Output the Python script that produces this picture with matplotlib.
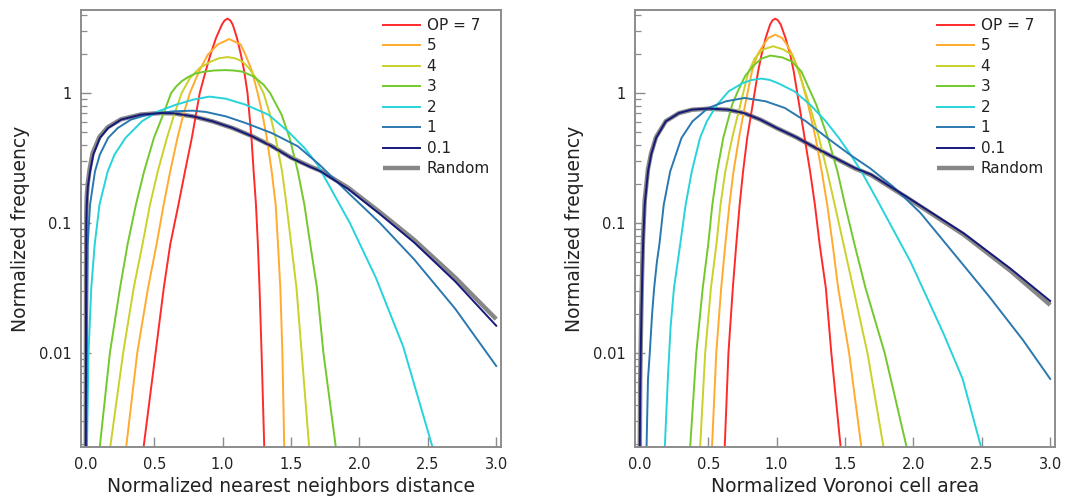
import matplotlib
matplotlib.use("Agg")
import matplotlib.pyplot as plt
from matplotlib.ticker import FixedLocator, FixedFormatter, LogLocator, NullFormatter

plt.rcParams['font.family'] = ['DejaVu Sans']

# ---------------- series labels and colours ----------------
labels = ["OP = 7", "5", "4", "3", "2", "1", "0.1", "Random"]
colors = ["#ff2a2a", "#ffab2e", "#c9d12a", "#72c92c", "#27d3da", "#2a78b0", "#16197a", "#7a7a7a"]

# ---------------- nearest neighbour distance distributions ----------------
nn_op7_x = [0.42, 0.51, 0.57, 0.617, 0.677, 0.725, 0.775, 0.833, 0.876, 0.911, 0.952, 0.995, 1.015, 1.036, 1.056,
            1.074, 1.105, 1.134, 1.158, 1.182, 1.211, 1.227, 1.244, 1.258, 1.27, 1.285, 1.305]
nn_op7_y = [0.0018, 0.01, 0.0316, 0.0681, 0.138, 0.249, 0.451, 1.0, 1.47, 1.97, 2.65, 3.36, 3.62, 3.73, 3.62,
            3.36, 2.65, 1.97, 1.47, 1.0, 0.451, 0.249, 0.138, 0.0681, 0.0316, 0.01, 0.0018]

nn_op5_x = [0.293, 0.376, 0.455, 0.517, 0.569, 0.617, 0.67, 0.713, 0.761, 0.828, 0.892, 0.964, 1.048, 1.132,
            1.167, 1.215, 1.256, 1.292, 1.323, 1.359, 1.388, 1.405, 1.422, 1.437, 1.451]
nn_op5_y = [0.0018, 0.01, 0.0316, 0.0681, 0.138, 0.249, 0.451, 0.681, 1.0, 1.47, 1.97, 2.36, 2.6, 2.36,
            1.97, 1.47, 1.0, 0.681, 0.451, 0.249, 0.138, 0.0681, 0.0316, 0.01, 0.0018]

nn_op4_x = [0.176, 0.273, 0.35, 0.414, 0.469, 0.526, 0.593, 0.646, 0.701, 0.761, 0.833, 0.916, 0.975, 1.036,
            1.09, 1.144, 1.191, 1.244, 1.299, 1.347, 1.388, 1.435, 1.467, 1.502, 1.54, 1.578, 1.634]
nn_op4_y = [0.0018, 0.01, 0.0316, 0.0681, 0.138, 0.249, 0.451, 0.681, 1.0, 1.3, 1.56, 1.75, 1.85, 1.89,
            1.85, 1.75, 1.56, 1.3, 1.0, 0.681, 0.451, 0.249, 0.138, 0.0681, 0.0316, 0.01, 0.0018]

nn_op3_x = [0.10, 0.176, 0.25, 0.305, 0.366, 0.426, 0.498, 0.565, 0.624, 0.66, 0.70, 0.75, 0.80, 0.868, 0.94,
            1.019, 1.08, 1.144, 1.227, 1.299, 1.347, 1.431, 1.49, 1.55, 1.598, 1.641, 1.69, 1.737, 1.83]
nn_op3_y = [0.0018, 0.01, 0.0316, 0.0681, 0.138, 0.249, 0.451, 0.681, 1.0, 1.12, 1.23, 1.33, 1.41, 1.46, 1.49,
            1.5, 1.49, 1.46, 1.34, 1.16, 1.0, 0.681, 0.451, 0.249, 0.138, 0.0681, 0.0316, 0.01, 0.0018]

nn_op2_x = [0.008, 0.02, 0.04, 0.065, 0.1, 0.16, 0.21, 0.29, 0.41, 0.53, 0.66, 0.785, 0.904, 1.024,
            1.167, 1.335, 1.478, 1.598, 1.694, 1.93, 2.12, 2.32, 2.54]
nn_op2_y = [0.0018, 0.01, 0.0316, 0.0681, 0.138, 0.249, 0.336, 0.451, 0.605, 0.723, 0.813, 0.889, 0.938, 0.904,
            0.813, 0.681, 0.507, 0.378, 0.281, 0.1, 0.038, 0.0112, 0.0018]

nn_op1_x = [0.004, 0.008, 0.012, 0.014, 0.031, 0.067, 0.103, 0.163, 0.234, 0.33, 0.45, 0.641, 0.785, 0.88,
            1.024, 1.167, 1.359, 1.55, 1.706, 1.92, 2.15, 2.4, 2.7, 3.0]
nn_op1_y = [0.0018, 0.0158, 0.04, 0.0681, 0.138, 0.249, 0.336, 0.451, 0.538, 0.624, 0.681, 0.723, 0.731, 0.714,
            0.661, 0.588, 0.492, 0.389, 0.282, 0.17, 0.1, 0.0525, 0.0219, 0.00794]

nn_op01_x = [0.0, 0.002, 0.004, 0.007, 0.015, 0.031, 0.055, 0.103, 0.163, 0.258, 0.402, 0.545, 0.641, 0.785,
             0.928, 1.072, 1.215, 1.359, 1.502, 1.641, 1.713, 1.92, 2.15, 2.4, 2.7, 3.0]
nn_op01_y = [0.0018, 0.0316, 0.1, 0.138, 0.191, 0.249, 0.336, 0.451, 0.538, 0.624, 0.681, 0.701, 0.698, 0.661,
             0.605, 0.538, 0.465, 0.389, 0.316, 0.27, 0.251, 0.182, 0.117, 0.0708, 0.0355, 0.0162]

nn_rand_x = [0.0, 0.002, 0.004, 0.007, 0.015, 0.028, 0.05, 0.1, 0.16, 0.258, 0.402, 0.545, 0.641, 0.785,
             0.928, 1.072, 1.215, 1.359, 1.502, 1.641, 1.713, 1.92, 2.15, 2.4, 2.7, 3.0]
nn_rand_y = [0.0018, 0.04, 0.12, 0.16, 0.205, 0.26, 0.345, 0.46, 0.545, 0.628, 0.683, 0.701, 0.697, 0.66,
             0.604, 0.538, 0.466, 0.391, 0.318, 0.272, 0.253, 0.186, 0.121, 0.0741, 0.038, 0.0182]

# ---------------- Voronoi cell area distributions ----------------
va_op7_x = [0.62, 0.648, 0.68, 0.705, 0.73, 0.755, 0.785, 0.825, 0.865, 0.89, 0.92, 0.952, 0.97, 0.99, 1.01,
            1.03, 1.065, 1.1, 1.125, 1.165, 1.205, 1.245, 1.28, 1.315, 1.36, 1.40, 1.47]
va_op7_y = [0.0018, 0.01, 0.0316, 0.0681, 0.138, 0.249, 0.451, 0.813, 1.47, 1.97, 2.65, 3.36, 3.62, 3.73, 3.62,
            3.36, 2.65, 1.97, 1.47, 0.813, 0.451, 0.249, 0.138, 0.0681, 0.0316, 0.01, 0.0018]

va_op5_x = [0.527, 0.559, 0.595, 0.625, 0.655, 0.685, 0.725, 0.77, 0.82, 0.86, 0.905, 0.94, 0.99, 1.04,
            1.075, 1.115, 1.165, 1.23, 1.285, 1.33, 1.37, 1.41, 1.45, 1.53, 1.622]
va_op5_y = [0.0018, 0.01, 0.0316, 0.0681, 0.138, 0.249, 0.451, 0.813, 1.47, 1.97, 2.36, 2.65, 2.81, 2.65,
            2.36, 1.97, 1.47, 0.813, 0.451, 0.249, 0.138, 0.0681, 0.0316, 0.01, 0.0018]

va_op4_x = [0.44, 0.478, 0.52, 0.56, 0.59, 0.625, 0.675, 0.735, 0.79, 0.84, 0.9, 0.975, 1.05, 1.11,
            1.16, 1.24, 1.31, 1.37, 1.425, 1.49, 1.56, 1.664, 1.785]
va_op4_y = [0.0018, 0.01, 0.0316, 0.0681, 0.138, 0.249, 0.451, 0.813, 1.40, 1.85, 2.16, 2.29, 2.16, 1.97,
            1.47, 0.813, 0.451, 0.249, 0.138, 0.0681, 0.0316, 0.01, 0.0018]

va_op3_x = [0.367, 0.413, 0.46, 0.5, 0.53, 0.565, 0.61, 0.675, 0.72, 0.77, 0.83, 0.89, 0.955, 1.04, 1.11,
            1.18, 1.29, 1.375, 1.445, 1.5, 1.57, 1.65, 1.79, 1.955]
va_op3_y = [0.0018, 0.01, 0.0316, 0.0681, 0.138, 0.249, 0.451, 0.813, 1.05, 1.35, 1.62, 1.84, 1.94, 1.88, 1.75,
            1.47, 0.813, 0.451, 0.249, 0.138, 0.0681, 0.0316, 0.01, 0.0018]

va_op2_x = [0.182, 0.205, 0.225, 0.25, 0.295, 0.335, 0.38, 0.44, 0.49, 0.565, 0.65, 0.75, 0.82, 0.89, 0.95,
            1.01, 1.13, 1.245, 1.36, 1.455, 1.54, 1.62, 1.74, 1.98, 2.22, 2.36, 2.5]
va_op2_y = [0.0018, 0.00631, 0.0158, 0.0316, 0.0681, 0.138, 0.249, 0.451, 0.605, 0.813, 1.03, 1.19, 1.26, 1.29, 1.26,
            1.19, 1.03, 0.813, 0.605, 0.451, 0.336, 0.249, 0.147, 0.0501, 0.0141, 0.00631, 0.0018]

va_op1_x = [0.049, 0.06, 0.073, 0.09, 0.105, 0.125, 0.143, 0.175, 0.222, 0.305, 0.385, 0.5, 0.63, 0.765,
            0.92, 1.06, 1.215, 1.37, 1.535, 1.68, 1.85, 2.05, 2.3, 2.55, 2.8, 3.0]
va_op1_y = [0.0018, 0.00631, 0.01, 0.02, 0.0316, 0.0501, 0.0681, 0.138, 0.249, 0.451, 0.605, 0.767, 0.863, 0.916,
            0.863, 0.767, 0.605, 0.451, 0.336, 0.265, 0.191, 0.12, 0.0575, 0.0275, 0.0126, 0.00631]

va_op01_x = [0.0, 0.003, 0.007, 0.012, 0.018, 0.024, 0.036, 0.06, 0.083, 0.119, 0.19, 0.286, 0.381, 0.5,
             0.643, 0.762, 0.881, 1.0, 1.143, 1.286, 1.429, 1.571, 1.69, 1.955, 2.368, 2.708, 3.0]
va_op01_y = [0.0018, 0.00501, 0.01, 0.02, 0.0398, 0.0681, 0.138, 0.249, 0.336, 0.451, 0.605, 0.701, 0.745, 0.759,
             0.745, 0.701, 0.624, 0.538, 0.457, 0.378, 0.316, 0.265, 0.236, 0.158, 0.0832, 0.0447, 0.0251]

va_rand_x = [0.0, 0.003, 0.007, 0.012, 0.018, 0.024, 0.036, 0.06, 0.083, 0.119, 0.19, 0.286, 0.381, 0.5,
             0.643, 0.762, 0.881, 1.0, 1.143, 1.286, 1.429, 1.571, 1.69, 1.955, 2.368, 2.708, 3.0]
va_rand_y = [0.0018, 0.006, 0.012, 0.024, 0.046, 0.078, 0.15, 0.26, 0.345, 0.458, 0.607, 0.7, 0.743, 0.757,
             0.743, 0.7, 0.624, 0.538, 0.456, 0.377, 0.315, 0.263, 0.234, 0.156, 0.0813, 0.043, 0.0234]

nn_series = [(nn_op7_x, nn_op7_y), (nn_op5_x, nn_op5_y), (nn_op4_x, nn_op4_y), (nn_op3_x, nn_op3_y),
             (nn_op2_x, nn_op2_y), (nn_op1_x, nn_op1_y), (nn_op01_x, nn_op01_y), (nn_rand_x, nn_rand_y)]
va_series = [(va_op7_x, va_op7_y), (va_op5_x, va_op5_y), (va_op4_x, va_op4_y), (va_op3_x, va_op3_y),
             (va_op2_x, va_op2_y), (va_op1_x, va_op1_y), (va_op01_x, va_op01_y), (va_rand_x, va_rand_y)]

x_ticks = [0.0, 0.5, 1.0, 1.5, 2.0, 2.5, 3.0]
y_ticks = [0.01, 0.1, 1]
y_tick_labels = ["0.01", "0.1", "1"]

text_color = "#222222"
frame_color = "#8c8c8c"

fig = plt.figure(figsize=(10.88, 5.03), dpi=100)
ax_nn = fig.add_axes([81 / 1088, 56 / 503, 420 / 1088, 437 / 503])
ax_va = fig.add_axes([635 / 1088, 56 / 503, 420 / 1088, 437 / 503])


def draw_panel(ax, series, xlabel):
    handles = []
    for (xs, ys), lab, col in zip(series, labels, colors):
        if lab == "Random":
            h, = ax.plot(xs, ys, color=col, lw=3.2, alpha=0.9, zorder=1,
                         solid_capstyle="butt", solid_joinstyle="round", label=lab)
        else:
            h, = ax.plot(xs, ys, color=col, lw=1.4, zorder=2,
                         solid_joinstyle="round", label=lab)
        handles.append(h)

    ax.set_yscale("log")
    ax.set_xlim(-0.035, 3.035)
    ax.set_ylim(0.00189, 4.35)

    ax.xaxis.set_major_locator(FixedLocator(x_ticks))
    ax.set_xticklabels([f"{t:.1f}" for t in x_ticks])
    ax.yaxis.set_major_locator(FixedLocator(y_ticks))
    ax.yaxis.set_major_formatter(FixedFormatter(y_tick_labels))
    ax.yaxis.set_minor_locator(LogLocator(base=10, subs=[2, 3, 4, 5, 6, 7, 8, 9]))
    ax.yaxis.set_minor_formatter(NullFormatter())
    ax.xaxis.set_minor_locator(FixedLocator([]))

    ax.tick_params(axis="both", which="major", direction="in", length=7, width=1.0,
                   color=frame_color, labelcolor=text_color, labelsize=10.5, pad=7)
    ax.tick_params(axis="y", which="minor", direction="in", length=4, width=0.9,
                   color=frame_color)
    ax.tick_params(top=False, right=False, which="both")

    for sp in ax.spines.values():
        sp.set_color(frame_color)
        sp.set_linewidth(1.4)

    ax.set_xlabel(xlabel, fontsize=13.5, color=text_color, labelpad=4)
    ax.set_ylabel("Normalized frequency", fontsize=13.5, color=text_color, labelpad=6)

    leg = ax.legend(handles=handles, loc="upper left", bbox_to_anchor=(0.719, 0.982),
                    frameon=False, fontsize=11, handlelength=2.4, handletextpad=0.45,
                    labelspacing=0.36, borderpad=0, borderaxespad=0)
    for t in leg.get_texts():
        t.set_color(text_color)


draw_panel(ax_nn, nn_series, "Normalized nearest neighbors distance")
draw_panel(ax_va, va_series, "Normalized Voronoi cell area")

fig.savefig("out.png", dpi=100)
